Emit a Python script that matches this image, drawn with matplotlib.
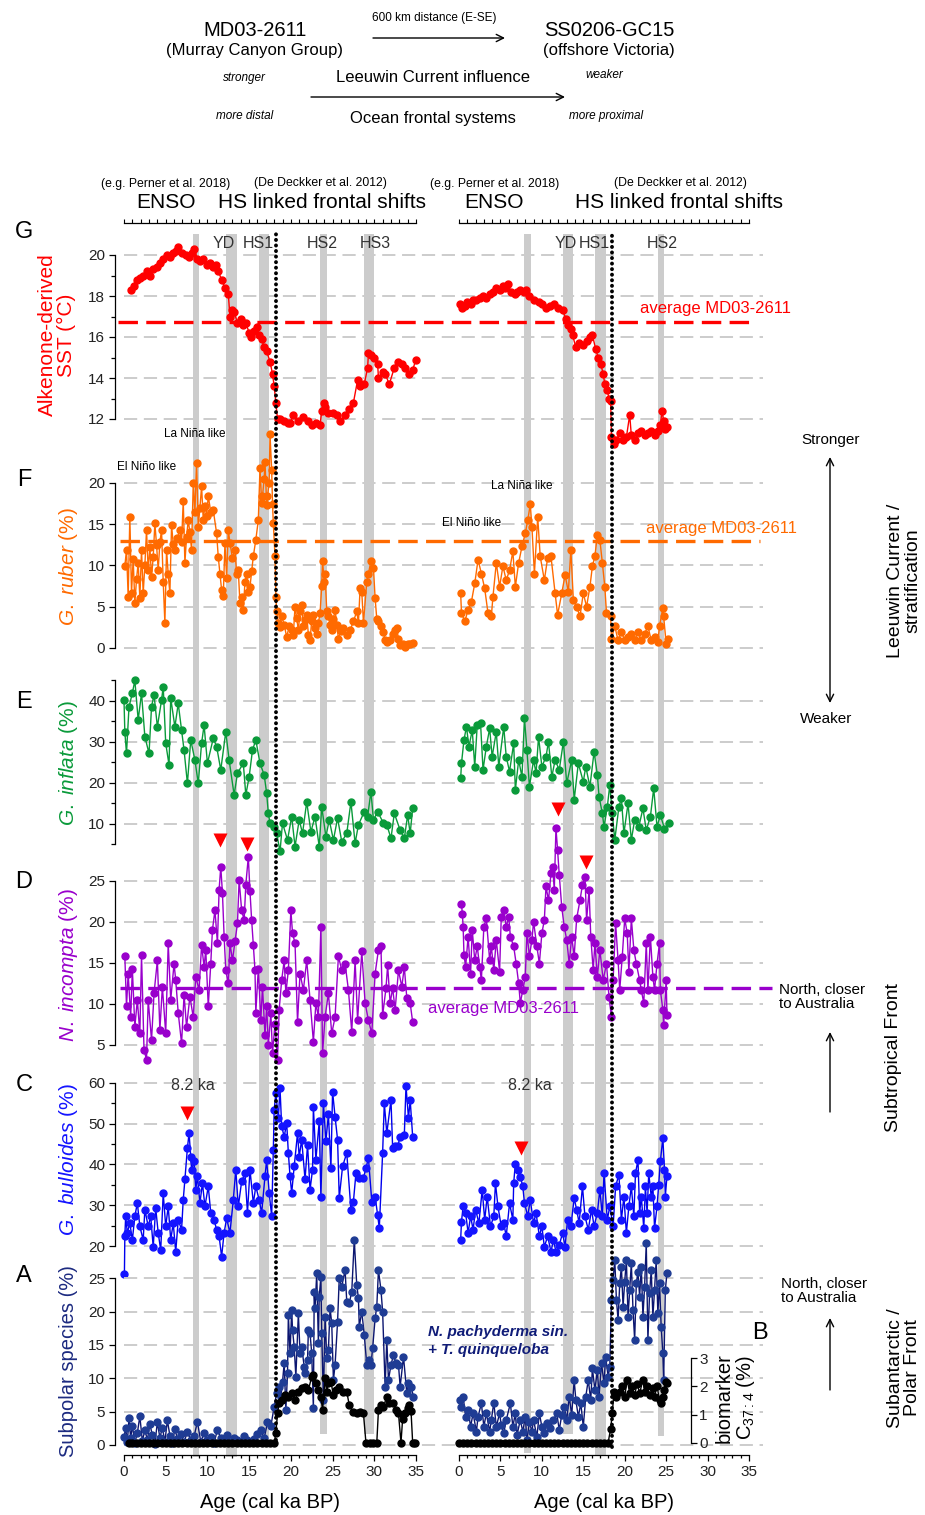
import matplotlib
matplotlib.use('Agg')
import matplotlib.pyplot as plt

plt.rcParams['font.family'] = ['Liberation Sans', 'DejaVu Sans']
plt.rcParams['mathtext.fontset'] = 'custom'
plt.rcParams['mathtext.rm'] = 'Liberation Sans'
plt.rcParams['mathtext.it'] = 'Liberation Sans:italic'
plt.rcParams['mathtext.bf'] = 'Liberation Sans:bold'
plt.rcParams['lines.scale_dashes'] = False

# ---------------- data (ages in cal ka BP) ----------------
# G: alkenone SST (degC)
sst_l_age = [0.8,1.2,1.6,1.9,2.3,2.7,3.1,3.5,3.9,4.3,4.7,5.1,5.5,5.9,6.2,6.5,6.9,7.4,7.8,8.1,
             8.4,8.8,9.1,9.5,9.9,10.3,10.7,11.0,11.3,11.7,12.1,12.5,12.7,12.9,13.2,13.6,14.0,14.3,14.6,15.0,
             15.2,15.6,15.9,16.2,16.5,16.8,17.1,17.5,17.8,18.0,18.2,18.4,18.7,19.2,19.6,19.9,20.3,20.8,21.5,22.0,
             22.5,23.0,23.5,23.7,24.0,24.1,24.5,25.0,25.5,25.9,26.5,27.0,27.5,28.0,28.3,28.8,29.2,29.3,29.6,30.0,
             30.4,30.5,31.0,31.3,31.8,32.4,32.9,33.3,33.7,34.2,34.6,35.0]
sst_l = [18.3,18.5,18.8,18.9,19.0,19.2,19.0,19.3,19.4,19.6,19.8,20.0,19.9,20.1,20.2,20.4,20.1,20.0,19.9,20.1,
         20.3,19.8,19.7,19.8,19.5,19.6,19.4,19.5,19.2,18.8,18.4,18.1,17.0,17.3,17.2,16.7,16.9,16.6,16.7,16.2,
         16.0,16.3,16.5,16.1,15.9,15.5,15.3,14.8,14.2,13.6,12.8,12.0,12.0,11.9,11.8,11.8,12.2,11.9,12.1,11.9,
         11.7,11.8,11.7,12.4,12.8,12.6,12.3,12.3,12.2,11.9,12.2,12.5,12.8,13.9,13.6,13.7,14.5,15.2,15.1,15.0,
         14.7,14.0,14.3,14.2,13.7,14.5,14.8,14.7,14.5,14.2,14.4,14.9]
sst_r_age = [0.1,0.4,0.7,1.0,1.4,1.7,2.1,2.5,2.9,3.3,3.7,4.1,4.5,4.9,5.3,5.6,5.9,6.3,6.7,7.0,
             7.4,7.8,8.1,8.5,9.1,9.6,10.0,10.5,11.0,11.5,12.0,12.5,12.9,13.2,13.5,13.7,14.1,14.5,15.0,15.4,
             15.8,16.1,16.5,16.8,17.1,17.4,17.6,17.9,18.1,18.3,18.4,18.7,19.0,19.4,19.8,20.2,20.6,20.8,21.2,21.6,
             22.0,22.4,22.8,23.2,23.6,24.0,24.3,24.5,24.7,24.9,25.1]
sst_r = [17.6,17.4,17.5,17.7,17.6,17.8,17.8,17.9,18.0,17.9,18.1,18.2,18.4,18.3,18.5,18.4,18.6,18.2,18.1,18.2,
         18.3,18.2,18.3,18.0,17.8,17.7,17.6,17.4,17.5,17.6,17.4,17.3,16.9,16.6,16.4,16.1,15.5,15.7,15.6,15.8,
         16.0,16.1,15.4,15.0,14.7,14.2,13.7,13.4,13.0,12.9,11.1,10.8,11.0,11.3,11.0,11.1,12.2,11.2,11.0,11.3,
         11.4,11.2,11.3,11.4,11.2,11.4,11.7,12.4,11.9,11.5,11.6]

# F: G. ruber (%)
rub_l_age = [0.1,0.3,0.5,0.7,0.9,1.1,1.3,1.5,1.7,1.9,2.1,2.3,2.5,2.7,2.9,3.1,3.3,3.5,3.7,3.9,
             4.1,4.3,4.5,4.7,4.9,5.1,5.3,5.5,5.7,5.9,6.1,6.4,6.7,6.9,7.1,7.3,7.5,7.7,7.9,8.1,
             8.3,8.5,8.7,8.9,9.1,9.3,9.5,9.7,9.9,10.1,10.4,10.7,11.1,11.3,11.5,11.7,11.9,12.1,12.3,12.5,
             12.7,13.0,13.3,13.5,13.7,13.9,14.1,14.3,14.5,14.7,14.9,15.1,15.3,15.5,15.8,16.1,16.3,16.5,16.6,16.8,
             16.9,17.1,17.2,17.4,17.5,17.7,17.8,17.9,18.1,18.2,18.3,18.5,18.7,18.9,19.2,19.5,19.8,20.1,20.3,20.5,
             20.7,20.9,21.1,21.3,21.5,21.7,21.9,22.1,22.3,22.5,22.7,22.9,23.1,23.3,23.5,23.7,23.8,24.0,24.1,24.3,
             24.5,24.7,24.9,25.1,25.3,25.5,25.7,26.0,26.3,26.7,27.1,27.5,27.9,28.1,28.3,28.5,28.7,29.1,29.3,29.6,
             29.9,30.1,30.3,30.5,30.8,31.1,31.3,31.5,31.9,32.3,32.5,32.7,32.9,33.1,33.4,33.7,34.0,34.3,34.7]
rub_l = [9.9,11.9,6.2,15.9,6.6,10.8,5.4,8.3,10.3,6.0,11.9,6.6,10.0,14.3,9.4,12.2,8.6,11.0,15.1,12.5,
         9.4,12.8,14.3,8.0,3.0,11.9,8.9,6.6,14.9,12.6,11.9,13.3,14.3,12.8,17.8,10.3,13.5,15.5,14.0,11.9,
         20.0,16.5,22.4,14.7,17.0,19.6,15.5,17.2,16.0,18.4,16.5,16.7,13.9,11.0,9.0,7.0,6.3,12.7,8.5,14.3,
         12.7,10.9,11.9,9.0,9.4,5.4,6.1,4.6,8.0,9.0,6.8,7.4,9.3,11.1,13.1,15.5,21.8,17.6,18.4,20.5,
         22.6,17.3,18.4,20.0,25.9,21.6,17.5,15.1,11.1,6.2,4.5,3.0,2.5,3.8,2.8,1.3,2.6,2.1,1.6,5.0,
         3.6,2.1,4.4,5.2,2.6,3.4,4.0,1.6,0.9,3.3,4.0,2.4,1.7,3.0,4.2,7.5,10.5,8.0,9.0,4.5,
         3.8,2.7,2.1,3.5,4.6,2.8,1.1,2.0,2.4,1.6,2.1,3.2,4.4,3.0,7.2,6.8,3.0,8.0,9.0,10.5,
         9.7,6.0,3.5,3.2,2.6,1.9,0.9,0.7,0.9,1.7,2.2,2.4,1.0,0.3,0.5,0.1,0.4,0.5,0.6]
rub_r_age = [0.2,0.3,0.7,1.1,1.5,1.9,2.3,2.7,3.1,3.5,3.9,4.1,4.5,4.9,5.3,5.7,6.1,6.5,6.8,7.2,
             7.6,8.0,8.3,8.6,8.8,9.1,9.5,9.8,10.3,10.7,11.1,11.6,11.9,12.4,12.8,13.2,13.5,13.8,14.2,14.6,
             15.0,15.4,15.8,16.1,16.4,16.7,17.0,17.3,17.6,17.8,18.3,18.4,18.8,19.2,19.6,20.0,20.4,20.8,21.2,21.6,
             22.0,22.4,22.8,23.2,23.6,24.0,24.2,24.6,24.7,25.0,25.2]
rub_r = [6.6,4.2,3.2,4.6,5.6,7.8,10.7,9.0,7.2,4.2,3.8,6.2,10.3,7.4,9.9,8.2,9.4,11.7,7.4,10.3,
         12.3,13.9,15.5,17.4,14.7,9.0,15.9,11.1,8.2,10.9,11.1,6.6,4.0,6.6,8.8,6.8,11.9,5.8,5.0,3.8,
         6.6,5.0,7.4,9.9,11.1,13.7,13.1,10.3,7.4,4.2,3.8,1.1,2.6,0.9,1.9,0.9,1.3,1.7,0.9,1.9,
         0.9,1.7,2.6,0.9,1.3,0.7,2.6,4.8,3.8,0.5,1.1]

# E: G. inflata (%)
inf_l_age = [0.0,0.1,0.3,0.6,1.0,1.3,1.7,2.1,2.5,3.0,3.3,3.6,4.0,4.5,4.7,5.0,5.4,5.6,6.1,6.5,
             6.9,7.2,7.6,8.0,8.5,8.9,9.3,9.6,10.0,10.7,11.1,11.6,12.2,12.6,13.2,13.6,14.3,14.6,15.0,15.4,
             15.8,16.3,16.8,17.1,17.3,17.5,18.0,18.3,18.7,19.0,19.6,20.1,20.5,21.0,21.4,21.9,22.4,22.9,23.4,23.7,
             24.2,24.6,25.1,25.6,26.1,26.7,27.2,27.7,28.1,28.8,29.2,29.6,29.9,30.4,31.1,31.5,32.0,32.4,33.1,33.6,
             34.0,34.3,34.6]
inf_l = [40.2,32.5,27.2,38.6,41.9,45.0,35.4,41.9,31.3,27.2,38.6,41.5,33.7,40.2,43.5,29.7,24.4,40.7,33.7,39.4,
         32.9,28.0,19.9,30.5,25.6,19.9,29.7,34.1,24.8,30.9,28.9,23.2,32.5,25.6,17.1,22.4,24.8,17.1,21.5,28.0,
         30.5,24.8,22.0,17.5,12.6,10.2,9.3,7.7,3.3,10.2,6.1,11.8,4.5,11.0,7.7,15.4,8.1,11.8,4.5,14.2,
         6.9,11.0,6.1,11.4,5.7,7.7,15.4,5.3,9.8,13.0,11.8,17.9,11.0,13.0,10.2,9.8,6.5,12.6,8.5,6.5,
         12.2,7.7,13.8]
inf_r_age = [0.2,0.3,0.6,0.9,1.2,1.6,1.9,2.2,2.6,2.9,3.3,3.7,4.0,4.5,4.8,5.4,5.7,6.1,6.6,6.8,
             7.2,7.6,7.9,8.2,8.5,9.0,9.3,9.6,10.0,10.5,10.8,11.2,11.6,12.1,12.6,13.0,13.6,13.9,14.4,15.0,
             15.3,15.8,16.3,16.7,16.9,17.3,17.5,17.9,18.2,18.5,18.8,19.3,19.6,19.9,20.4,20.8,21.2,21.7,22.2,22.6,
             23.1,23.5,23.9,24.3,24.8,25.3]
inf_r = [21.1,24.8,30.5,33.7,28.9,32.9,24.0,34.1,34.6,23.2,28.9,33.3,26.4,32.5,24.0,33.7,26.4,22.8,29.7,18.3,
         25.6,21.5,35.8,28.0,19.1,25.6,22.4,31.3,24.0,26.4,30.1,21.5,25.6,23.2,30.1,19.9,25.6,15.9,24.8,20.3,
         24.0,19.1,27.6,22.0,16.7,12.6,9.3,14.2,19.5,12.6,6.1,14.2,16.3,7.7,15.0,6.1,11.0,9.3,13.8,8.5,
         11.8,18.7,9.3,12.2,8.9,10.2]

# D: N. incompta (%)
inc_l_age = [0.1,0.3,0.5,0.8,1.0,1.3,1.6,1.9,2.1,2.4,2.7,2.9,3.3,3.6,4.0,4.3,4.6,5.0,5.3,5.6,
             6.0,6.2,6.5,6.9,7.2,7.5,7.9,8.3,8.6,9.0,9.3,9.6,9.8,10.1,10.4,10.6,10.9,11.2,11.4,11.6,
             11.8,12.0,12.2,12.5,12.7,13.0,13.3,13.6,13.8,14.1,14.4,14.6,14.9,15.1,15.3,15.5,15.7,15.8,16.1,16.4,
             16.6,16.9,17.1,17.3,17.6,17.8,18.1,18.4,18.6,18.9,19.2,19.4,19.7,20.0,20.2,20.5,20.8,21.1,21.5,21.9,
             22.3,22.7,23.0,23.3,23.6,23.8,24.1,24.5,24.9,25.3,25.7,26.1,26.5,26.9,27.3,27.7,28.0,28.5,28.9,29.3,
             29.7,30.1,30.5,30.8,31.0,31.4,31.6,31.9,32.2,32.5,32.9,33.3,33.6,33.9,34.3,34.6]
inc_l = [15.8,9.7,13.7,8.4,14.3,7.2,10.5,6.4,16.0,4.4,3.2,10.5,5.6,11.3,15.3,6.8,12.1,6.4,17.4,10.5,
         14.9,12.9,8.9,5.2,11.1,7.2,10.9,8.4,13.3,11.7,17.2,14.5,16.6,9.7,14.9,19.0,21.4,17.4,23.9,26.7,
         23.5,18.2,14.1,12.5,17.4,15.3,17.6,19.8,25.1,21.4,20.2,24.5,27.9,23.7,20.2,17.2,14.1,8.9,14.3,8.0,
         12.1,6.2,9.7,5.0,8.9,4.0,7.6,3.2,9.3,12.9,15.3,11.3,14.1,21.4,18.6,17.4,7.8,13.7,11.7,15.3,
         10.5,5.4,10.1,8.4,19.4,4.0,8.4,11.3,6.4,8.4,15.8,14.1,14.9,11.7,6.6,15.3,8.0,16.4,10.1,8.0,
         6.4,13.7,16.6,17.0,8.6,11.9,14.7,10.1,11.9,9.3,14.1,12.1,14.5,10.7,10.1,7.8]
inc_r_age = [0.3,0.4,0.5,0.6,0.8,1.1,1.4,1.6,1.9,2.2,2.5,2.7,3.0,3.3,3.7,3.9,4.2,4.5,4.9,5.1,
             5.4,5.7,6.0,6.2,6.6,6.9,7.2,7.4,7.7,8.0,8.2,8.5,8.8,9.0,9.4,9.7,10.0,10.3,10.5,10.8,
             11.1,11.3,11.5,11.7,11.9,12.1,12.4,12.7,13.0,13.3,13.6,13.9,14.2,14.6,14.9,15.2,15.4,15.7,15.9,16.2,
             16.4,16.7,17.0,17.4,17.8,18.1,18.4,18.6,18.9,19.2,19.4,19.7,20.0,20.3,20.5,20.8,21.1,21.4,21.8,22.0,
             22.3,22.6,22.8,23.1,23.4,23.6,23.9,24.2,24.3,24.6,24.7,25.0,25.1]
inc_r = [22.2,21.0,19.4,16.0,14.5,18.2,13.7,19.0,15.3,17.0,14.5,12.9,19.4,20.4,15.3,17.0,14.1,17.8,13.9,20.6,
         21.4,19.4,20.6,18.2,17.0,14.9,12.5,10.1,11.7,13.3,18.6,15.8,17.8,20.0,17.0,14.9,18.6,20.2,24.3,22.6,
         25.9,26.7,23.9,31.4,28.7,25.7,21.8,19.4,17.8,14.9,18.2,15.8,20.4,22.6,24.5,25.5,20.2,23.9,18.2,14.1,
         17.4,13.3,16.6,12.9,14.9,10.9,8.4,12.9,19.8,15.3,11.7,15.7,20.4,18.6,13.9,20.4,16.6,14.9,12.9,11.7,
         10.1,17.4,11.7,18.2,13.3,11.7,14.9,17.4,11.7,9.3,7.4,12.9,8.7]

# C: G. bulloides (%)
bul_l_age = [0.05,0.1,0.2,0.4,0.7,1.0,1.3,1.6,1.9,2.3,2.5,2.9,3.2,3.5,3.8,4.1,4.4,4.7,5.0,5.3,
             5.6,5.9,6.2,6.5,6.9,7.1,7.3,7.6,7.8,8.0,8.1,8.4,8.6,8.8,9.1,9.4,9.7,10.1,10.4,10.8,
             11.1,11.4,11.7,12.0,12.3,12.7,13.1,13.4,13.7,14.1,14.5,14.8,15.1,15.5,15.8,16.2,16.5,16.9,17.1,17.4,
             17.7,17.9,18.0,18.2,18.5,18.7,18.9,19.2,19.5,19.7,19.9,20.1,20.4,20.8,21.0,21.3,21.7,22.0,22.3,22.6,
             22.7,23.0,23.4,23.6,23.9,24.2,24.5,24.8,25.0,25.3,25.6,25.8,26.2,26.7,27.2,27.5,27.8,28.2,28.7,29.0,
             29.3,29.7,30.1,30.4,30.6,31.0,31.2,31.5,32.0,32.2,32.5,32.8,33.1,33.6,33.8,34.1,34.3,34.6]
bul_l = [13.2,22.4,27.3,23.2,25.6,21.5,27.3,30.5,24.8,21.5,28.9,24.8,27.3,19.8,29.3,23.2,19.0,32.9,24.8,29.7,
         21.5,25.6,18.6,26.4,24.0,31.3,36.3,44.0,47.6,41.9,38.7,40.7,33.8,37.1,30.5,35.4,29.7,34.6,28.1,26.4,
         24.0,22.4,17.4,23.2,26.8,23.2,31.3,38.7,29.7,35.8,37.8,28.1,38.7,30.5,34.6,31.3,28.1,37.1,41.1,33.0,
         27.3,43.6,53.3,57.4,51.3,58.6,49.3,46.8,50.1,42.8,37.1,33.0,39.5,47.6,41.9,46.0,36.3,44.8,33.8,38.7,
         54.1,41.1,50.5,32.1,55.0,45.6,52.3,39.1,57.8,51.7,46.0,31.8,39.5,42.8,28.9,30.9,37.8,36.6,36.6,39.1,
         41.5,30.9,32.1,27.6,24.4,42.8,55.0,47.6,55.8,44.0,44.4,44.4,46.8,47.2,59.2,51.3,55.8,46.8]
bul_r_age = [0.2,0.3,0.5,0.8,1.1,1.4,1.7,2.0,2.4,2.8,3.1,3.4,3.8,4.2,4.4,4.7,5.1,5.4,5.7,6.1,
             6.5,6.6,6.8,7.1,7.4,7.7,7.9,8.3,8.6,9.0,9.3,9.7,10.0,10.3,10.7,11.1,11.4,11.7,12.1,12.5,
             12.8,13.1,13.5,13.9,14.2,14.5,14.9,15.2,15.6,16.0,16.3,16.7,17.0,17.3,17.5,17.9,18.2,18.6,18.9,19.3,
             19.6,19.9,20.2,20.5,20.8,21.1,21.3,21.6,21.8,22.0,22.3,22.5,22.7,22.9,23.2,23.4,23.6,23.9,24.1,24.3,
             24.6,24.8,24.9,25.1]
bul_r = [21.5,26.0,29.7,28.1,23.2,27.3,24.0,28.9,25.6,33.8,26.4,32.1,24.8,27.3,35.4,29.7,24.8,25.6,22.4,30.5,
         26.4,35.4,40.2,38.6,37.0,34.6,30.5,27.3,31.3,25.6,28.1,22.4,24.8,19.8,22.4,18.6,21.5,18.6,20.2,23.2,
         19.8,26.4,24.8,31.7,28.9,25.6,34.6,27.3,24.0,28.9,24.8,28.1,33.8,27.3,37.8,26.4,29.7,24.8,34.6,37.5,
         26.4,32.1,23.2,29.7,34.6,27.3,37.8,41.1,28.1,32.1,24.4,34.6,28.1,37.8,32.1,34.6,24.4,29.7,35.0,40.7,
         46.4,38.7,32.1,37.1]

# A: subpolar species N. pachyderma sin. + T. quinqueloba (%)
sub_l_age = [0.0,0.2,0.4,0.6,0.8,1.0,1.3,1.6,1.9,2.2,2.5,2.8,3.1,3.4,3.7,4.0,4.3,4.6,4.9,5.2,
             5.5,5.8,6.1,6.4,6.8,7.2,7.6,8.0,8.4,8.8,9.2,9.6,10.0,10.4,10.8,11.2,11.6,12.0,12.4,12.8,
             13.2,13.6,14.0,14.4,14.8,15.2,15.6,16.0,16.4,16.8,17.2,17.6,
             18.0,18.3,18.6,18.8,19.0,19.2,19.4,19.6,19.7,19.9,20.1,20.2,20.4,20.6,20.9,21.1,21.3,21.6,21.7,22.0,
             22.1,22.3,22.5,22.7,22.8,22.9,23.1,23.3,23.4,23.6,23.7,23.9,24.1,24.3,24.5,24.7,24.9,25.1,25.3,25.6,
             25.8,26.1,26.5,26.7,27.0,27.3,27.6,27.9,28.1,28.2,28.5,28.8,29.1,29.4,29.6,29.8,30.1,30.3,30.5,30.8,
             31.0,31.3,31.5,31.7,32.0,32.3,32.6,32.9,33.1,33.5,33.9,34.1,34.4,34.7]
sub_l = [1.2,2.5,0.4,4.0,1.0,2.9,0.3,1.8,4.3,0.6,2.2,0.8,3.1,1.5,0.2,3.4,1.1,2.6,0.5,3.7,
         1.4,0.3,2.4,0.9,1.6,0.4,2.0,0.7,1.3,3.5,0.5,1.8,0.8,1.2,0.3,2.3,1.0,0.6,1.5,0.4,
         1.1,0.8,0.5,1.3,0.7,0.4,0.9,1.6,2.2,1.0,3.4,2.8,
         5.75,7.75,8.75,7.25,9.5,12.25,5.25,10.75,19.5,13.75,20.25,17.25,14.75,10.25,19.75,13.75,14.75,11.75,10.75,12.75,
         17.25,16.75,13.75,5.5,23.0,20.5,25.75,15.25,22.25,25.25,16.75,6.75,19.25,13.0,14.25,20.5,18.25,9.75,12.0,18.5,
         25.0,23.75,26.25,21.5,21.25,23.0,30.75,24.0,22.0,17.75,20.0,16.5,12.0,12.75,12.0,14.5,19.0,20.75,26.25,23.25,
         20.0,8.75,15.75,9.75,12.0,13.5,12.25,12.0,8.75,13.25,7.75,9.25,8.75,7.25]
sub_r_age = [0.1,0.3,0.5,0.8,1.1,1.4,1.7,2.1,2.3,2.7,3.0,3.3,3.7,3.9,4.2,4.5,4.9,5.1,5.4,5.7,
             6.2,6.5,6.8,7.0,7.4,7.7,8.0,8.2,8.5,8.8,9.0,9.4,9.7,10.0,10.3,10.6,11.0,11.4,11.8,12.1,
             12.4,12.7,13.0,13.3,13.6,13.9,14.1,14.4,14.7,15.0,15.3,15.6,15.9,16.1,16.4,16.7,16.9,17.2,17.5,17.7,
             18.0,18.2,18.4,18.6,18.8,19.0,19.2,19.4,19.6,19.8,20.0,20.2,20.4,20.6,20.8,21.0,21.2,21.4,21.6,21.8,
             22.0,22.2,22.4,22.6,22.8,23.0,23.2,23.4,23.6,23.8,24.0,24.2,24.4,24.6,24.7,24.9,25.1]
sub_r = [6.75,5.75,7.25,4.25,5.25,2.75,4.75,2.0,4.25,6.25,2.75,4.75,2.0,3.75,6.35,2.75,4.75,3.0,1.75,3.75,
         6.25,2.75,4.75,1.5,3.75,2.0,4.25,0.75,3.5,2.0,3.75,1.25,4.75,2.75,1.75,3.25,2.5,3.75,4.75,2.25,
         4.5,5.75,3.75,7.25,4.5,9.75,6.75,4.25,6.25,2.75,7.25,9.75,6.75,11.5,8.25,11.25,7.25,12.25,9.25,13.25,
         10.25,11.75,21.75,24.75,27.75,21.75,18.75,24.25,26.75,20.75,24.5,27.75,19.25,23.25,27.25,20.25,15.75,24.25,26.0,22.25,
         26.75,19.25,23.75,30.25,15.75,22.75,26.25,19.25,23.25,27.75,19.75,24.25,17.75,13.75,9.75,23.25,25.75]

# B: biomarker C37:4 (%)
bio_l_age = [0.6,1.0,1.5,2.0,2.5,3.0,3.5,4.0,4.5,5.0,5.5,6.0,6.5,7.0,7.5,8.0,8.5,9.0,9.5,10.0,
             10.5,11.0,11.5,12.0,12.5,13.0,13.5,14.0,14.5,15.0,15.5,16.0,16.5,17.0,17.5,18.0,
             18.2,18.4,18.6,18.9,19.3,19.7,20.1,20.5,20.9,21.3,21.7,22.1,22.5,22.7,23.0,23.3,23.6,23.8,24.1,24.3,
             24.5,24.8,25.1,25.4,25.8,26.3,26.7,27.0,27.4,27.9,28.3,28.7,29.0,29.5,29.9,30.3,30.5,30.8,31.1,31.5,
             31.8,32.2,32.6,32.9,33.2,33.4,33.7,34.0,34.2,34.4,34.6,34.9]
bio_l = [0,0,0,0,0,0,0,0,0,0,0,0,0,0,0,0,0,0,0,0,
         0,0,0,0,0,0,0,0,0,0,0,0,0,0,0,0,
         0.33,1.04,1.4,1.52,1.69,1.64,1.75,1.52,1.81,1.93,1.99,1.87,2.35,2.4,2.11,1.87,1.64,1.16,2.29,1.81,
         2.11,2.17,1.69,1.87,1.99,1.81,1.81,1.34,1.1,1.04,1.1,1.04,0,0,0,0,1.16,1.34,1.28,1.64,
         1.4,1.4,1.16,1.04,0,0.86,1.04,1.22,1.34,1.14,0,0]
bio_r_age = [0.0,0.5,1.0,1.5,2.0,2.5,3.0,3.5,4.0,4.5,5.0,5.5,6.0,6.5,7.0,7.5,8.0,8.5,9.0,9.5,
             10.0,10.5,11.0,11.5,12.0,12.5,13.0,13.5,14.0,14.5,15.0,15.5,16.0,16.5,17.0,17.5,18.0,
             18.3,18.5,18.7,19.0,19.4,19.7,20.0,20.3,20.6,20.9,21.2,21.5,21.8,22.2,22.4,22.7,23.0,23.4,23.6,23.9,
             24.2,24.4,24.6,24.7,25.0,25.1]
bio_r = [0,0,0,0,0,0,0,0,0,0,0,0,0,0,0,0,0,0,0,0,
         0,0,0,0,0,0,0,0,0,0,0,0,0,0,0,0,0,
         0.5,1.04,1.8,1.64,1.8,2.0,1.64,2.23,1.76,2.0,1.7,2.1,1.76,2.23,1.8,2.0,1.7,1.93,1.64,2.0,
         1.52,1.4,1.64,1.87,2.17,2.11]

# averages of MD03-2611
avg_sst, avg_rub, avg_inc = 16.75, 12.9, 11.9

# events (ka) and glacial/Holocene boundary
bands_l = [(8.3, 9.0), (12.2, 13.5), (16.2, 17.4), (23.5, 24.3), (28.8, 30.0)]
bands_r = [(7.9, 8.7), (12.6, 13.7), (16.4, 17.7), (24.0, 24.8)]
edge_l, edge_r = 18.2, 18.45

# arrow markers (age, value)
tri_D_l = ([11.55, 14.8], [30.0, 29.5])
tri_D_r = ([11.9, 15.3], [33.7, 27.3])
tri_C_l = ([7.5], [52.6])
tri_C_r = ([7.5], [44.1])

# ---------------- layout ----------------
W, H = 925, 1515
XL, XR = (124, 416), (459, 749)
fig = plt.figure(figsize=(W / 100, H / 100), dpi=100)


def pax(x0, x1, y0, y1):
    ax = fig.add_axes([x0 / W, 1 - y1 / H, (x1 - x0) / W, (y1 - y0) / H])
    ax.patch.set_alpha(0)
    for s in ax.spines.values():
        s.set_visible(False)
    ax.set_xticks([]); ax.set_yticks([])
    return ax


def lims(cal, y0, y1):
    (va, pa), (vb, pb) = cal
    k = (vb - va) / (pb - pa)
    return va + (y1 - pa) * k, va + (y0 - pa) * k


# grey event bands
for (x0, x1), bands, bots in ((XL, bands_l, [1457, 1457, 1445, 1434, 1434]),
                              (XR, bands_r, [1453, 1434, 1455, 1436])):
    ax = pax(x0, x1, 220, 1470)
    ax.set_xlim(0, 35); ax.set_ylim(1470, 220)
    for (a0, a1), yb in zip(bands, bots):
        ax.axvspan(a0, a1, ymin=(1470 - yb) / 1250, ymax=(1470 - 234) / 1250, color='#cccccc', lw=0)

red, orange, green, purple, blue = '#ff0000', '#ff6a00', '#0a9a3a', '#9900cc', '#1414ff'
navy_pt, navy_ln = '#1f3c94', '#0c1670'
MS, LW = 5.0, 1.0

rows = [
    ('G', ((20, 255), (12, 419)), (232, 447), (12, 20), [12, 14, 16, 18, 20], [13, 15, 17, 19],
     (sst_l_age, sst_l), (sst_r_age, sst_r), red, red),
    ('F', ((20, 483), (0, 647.7)), (455, 660), (0, 20), [0, 5, 10, 15, 20], [],
     (rub_l_age, rub_l), (rub_r_age, rub_r), orange, orange),
    ('E', ((40, 701), (10, 824)), (672, 858), (5, 45), [10, 20, 30, 40], [5, 15, 25, 35, 45],
     (inf_l_age, inf_l), (inf_r_age, inf_r), green, green),
    ('D', ((25, 880.7), (5, 1045)), (845, 1062), (5, 25), [5, 10, 15, 20, 25], [],
     (inc_l_age, inc_l), (inc_r_age, inc_r), purple, purple),
    ('C', ((60, 1082.7), (20, 1246)), (1075, 1262), (20, 60), [20, 30, 40, 50, 60], [25, 35, 45, 55],
     (bul_l_age, bul_l), (bul_r_age, bul_r), '#0000ee', blue),
    ('A', ((25, 1278.3), (0, 1445)), (1262, 1455), (0, 25), [0, 5, 10, 15, 20, 25], [],
     (sub_l_age, sub_l), (sub_r_age, sub_r), navy_ln, navy_pt),
]

data_ax = {}
for key, cal, (y0, y1), bnd, major, minor, left, right, lc, mc in rows:
    yl = lims(cal, y0, y1)
    bg = pax(124, 763, y0, y1)
    bg.set_xlim(0, 1); bg.set_ylim(*yl)
    for v in major:
        bg.axhline(v, color='#cccccc', lw=1.4, ls=(0, (9.5, 4.8)), zorder=0)
    sp = bg.spines['left']
    sp.set_visible(True); sp.set_position(('outward', 6.5)); sp.set_bounds(*bnd); sp.set_linewidth(0.9)
    bg.set_yticks(major); bg.set_yticks(minor, minor=True)
    bg.tick_params(axis='y', which='major', length=4, width=0.9, labelsize=11, pad=3, labelcolor='#222222')
    bg.tick_params(axis='y', which='minor', length=2.6, width=0.9)
    if key == 'G':
        bg.axhline(avg_sst, -0.0094, 0.984, color=red, lw=2.4, ls=(0, (14, 6)), clip_on=False)
    if key == 'F':
        bg.axhline(avg_rub, -0.006, 0.995, color=orange, lw=2.4, ls=(0, (14, 6)), clip_on=False)
    if key == 'D':
        bg.axhline(avg_inc, -0.006, 1.014, color=purple, lw=2.4, ls=(0, (14, 6)), clip_on=False)
    for side, (x0, x1), (a, v) in (('l', XL, left), ('r', XR, right)):
        ax = pax(x0, x1, y0, y1)
        ax.set_xlim(0, 35); ax.set_ylim(*yl)
        ax.plot(a, v, '-o', color=lc, mfc=mc, mec=mc, ms=MS, lw=LW, clip_on=False)
        data_ax[key + side] = ax

# red triangles
for k, (ta, tv) in (('Dl', tri_D_l), ('Dr', tri_D_r), ('Cl', tri_C_l), ('Cr', tri_C_r)):
    data_ax[k].plot(ta, tv, 'v', color='#ff0000', ms=10, mec='none', clip_on=False)

# biomarker axes (B)
bcal = ((0, 1442.7), (3, 1358.3))
for (x0, x1), (a, v), side in ((XL, (bio_l_age, bio_l), 'l'), (XR, (bio_r_age, bio_r), 'r')):
    ax = pax(x0, x1, 1262, 1455)
    ax.set_xlim(0, 35); ax.set_ylim(*lims(bcal, 1262, 1455))
    ax.plot(a, v, '-o', color='k', ms=MS, lw=LW, clip_on=False)
    if side == 'r':
        sp = ax.spines['right']
        sp.set_visible(True); sp.set_position(('data', 28.0)); sp.set_bounds(0, 3); sp.set_linewidth(0.9)
        ax.yaxis.set_ticks_position('right')
        ax.set_yticks([0, 1, 2, 3])
        ax.tick_params(axis='y', length=4, width=0.9, labelsize=11, pad=2, labelcolor='#222222')

# dotted boundary on top
for (x0, x1), b, yb in ((XL, edge_l, 1440), (XR, edge_r, 1447)):
    ax = pax(x0, x1, 220, 1470)
    ax.set_xlim(0, 35); ax.set_ylim(1470, 220)
    ax.axvline(b, ymin=(1470 - yb) / 1250, ymax=(1470 - 232) / 1250, color='k', lw=2.8,
               ls=(0, (0.1, 3.9)), dash_capstyle='round')

# bottom age axes and top rulers
for (x0, x1) in (XL, XR):
    ax = pax(x0, x1, 1449, 1455)
    ax.set_xlim(0, 35)
    ax.spines['bottom'].set_visible(True); ax.spines['bottom'].set_linewidth(0.9)
    ax.set_xticks(range(0, 36, 5)); ax.set_xticks(range(0, 36), minor=True)
    ax.tick_params(axis='x', which='major', length=4.3, width=0.9, labelsize=11, pad=3, labelcolor='#222222')
    ax.tick_params(axis='x', which='minor', length=2.5, width=0.9)
    ax = pax(x0, x1, 216, 223)
    ax.set_xlim(0, 35)
    ax.spines['bottom'].set_visible(True); ax.spines['bottom'].set_linewidth(0.9)
    ax.set_xticks(range(0, 36, 5)); ax.set_xticks(range(0, 36), minor=True)
    ax.tick_params(axis='x', which='both', direction='in', labelbottom=False, length=3.2, width=0.8)

# ---------------- text layer (pixel coordinates) ----------------
ov = fig.add_axes([0, 0, 1, 1])
ov.set_xlim(0, W); ov.set_ylim(H, 0); ov.axis('off')


def t(x, y, s, **kw):
    kw.setdefault('ha', 'center'); kw.setdefault('va', 'center')
    ov.text(x, y, s, **kw)


def arrow(x0, y0, x1, y1, style='->'):
    ov.annotate('', xy=(x1, y1), xytext=(x0, y0),
                arrowprops=dict(arrowstyle=style, lw=1.0, color='k', mutation_scale=13, shrinkA=0, shrinkB=0))


t(255, 31, 'MD03-2611', fontsize=14.5)
t(255, 51, '(Murray Canyon Group)', fontsize=12)
t(609, 31, 'SS0206-GC15', fontsize=14.5)
t(609, 51, '(offshore Victoria)', fontsize=12)
t(434, 18, '600 km distance (E-SE)', fontsize=8.5)
arrow(373, 38, 505, 38)
t(244, 78, 'stronger', fontsize=8.5, style='italic')
t(433, 78, 'Leeuwin Current influence', fontsize=12)
t(604, 75, 'weaker', fontsize=8.5, style='italic')
arrow(311, 97, 565, 97)
t(245, 116, 'more distal', fontsize=8.5, style='italic')
t(433, 119, 'Ocean frontal systems', fontsize=12)
t(606, 116, 'more proximal', fontsize=8.5, style='italic')

t(166, 184, '(e.g. Perner et al. 2018)', fontsize=8.8)
t(320, 183, '(De Deckker et al. 2012)', fontsize=8.8)
t(166, 202, 'ENSO', fontsize=15)
t(322, 202, 'HS linked frontal shifts', fontsize=15)
t(495, 184, '(e.g. Perner et al. 2018)', fontsize=8.8)
t(680, 183, '(De Deckker et al. 2012)', fontsize=8.8)
t(494, 202, 'ENSO', fontsize=15)
t(679, 202, 'HS linked frontal shifts', fontsize=15)

for x, s in ((224, 'YD'), (258, 'HS1'), (322, 'HS2'), (375, 'HS3'), (566, 'YD'), (594, 'HS1'), (662, 'HS2')):
    t(x, 243, s, fontsize=11.5, color='#333333')

t(715, 308, 'average MD03-2611', fontsize=12, color=red)
t(721, 528, 'average MD03-2611', fontsize=12, color=orange)
t(504, 1009, 'average MD03-2611', fontsize=12, color=purple)
t(195, 434, 'La Niña like', fontsize=8.5)
t(147, 467, 'El Niño like', fontsize=8.5)
t(522, 486, 'La Niña like', fontsize=8.5)
t(472, 523, 'El Niño like', fontsize=8.5)
t(193, 1086, '8.2 ka', fontsize=11.5, color='#333333')
t(530, 1086, '8.2 ka', fontsize=11.5, color='#333333')
t(428, 1332, 'N. pachyderma sin.', ha='left', fontsize=11, fontweight='bold', style='italic', color='#101c78')
t(428, 1350, '+ T. quinqueloba', ha='left', fontsize=11, fontweight='bold', style='italic', color='#101c78')

for x, y, s in ((24, 232, 'G'), (24, 480, 'F'), (24, 702, 'E'), (24, 882, 'D'), (24, 1085, 'C'),
                (24, 1276, 'A'), (760, 1333, 'B')):
    t(x, y, s, fontsize=17)

t(57, 335, 'Alkenone-derived\nSST (°C)', rotation=90, fontsize=15, color=red, linespacing=1.05)
t(68, 567, r'$\mathit{G.\ ruber}$ (%)', rotation=90, fontsize=15, color=orange)
t(68, 763, r'$\mathit{G.\ inflata}$ (%)', rotation=90, fontsize=15, color=green)
t(68, 965, r'$\mathit{N.\ incompta}$ (%)', rotation=90, fontsize=15, color=purple)
t(68, 1160, r'$\mathit{G.\ bulloides}$ (%)', rotation=90, fontsize=15, color=blue)
t(68, 1361, 'Subpolar species (%)', rotation=90, fontsize=14.5, color='#1c2a80')
t(736, 1398, 'biomarker\n' + r'C$_{\mathrm{37{:}4}}$ (%)', rotation=90, fontsize=14.5, linespacing=1.0)

t(270, 1502, 'Age (cal ka BP)', fontsize=14.5)
t(604, 1502, 'Age (cal ka BP)', fontsize=14.5)

t(831, 440, 'Stronger', fontsize=11)
t(826, 719, 'Weaker', fontsize=11)
arrow(830, 703, 830, 457, '<->')
t(904, 581, 'Leeuwin Current /\nstratification', rotation=90, fontsize=14, linespacing=1.05)
t(779, 997, 'North, closer\nto Australia', ha='left', fontsize=11, linespacing=0.95)
arrow(830, 1112, 830, 1032)
t(893, 1057, 'Subtropical Front', rotation=90, fontsize=14)
t(781, 1291, 'North, closer\nto Australia', ha='left', fontsize=11, linespacing=0.95)
arrow(830, 1390, 830, 1318)
t(904, 1368, 'Subantarctic /\nPolar Front', rotation=90, fontsize=14, linespacing=1.05)

fig.savefig('out.png', dpi=100)
